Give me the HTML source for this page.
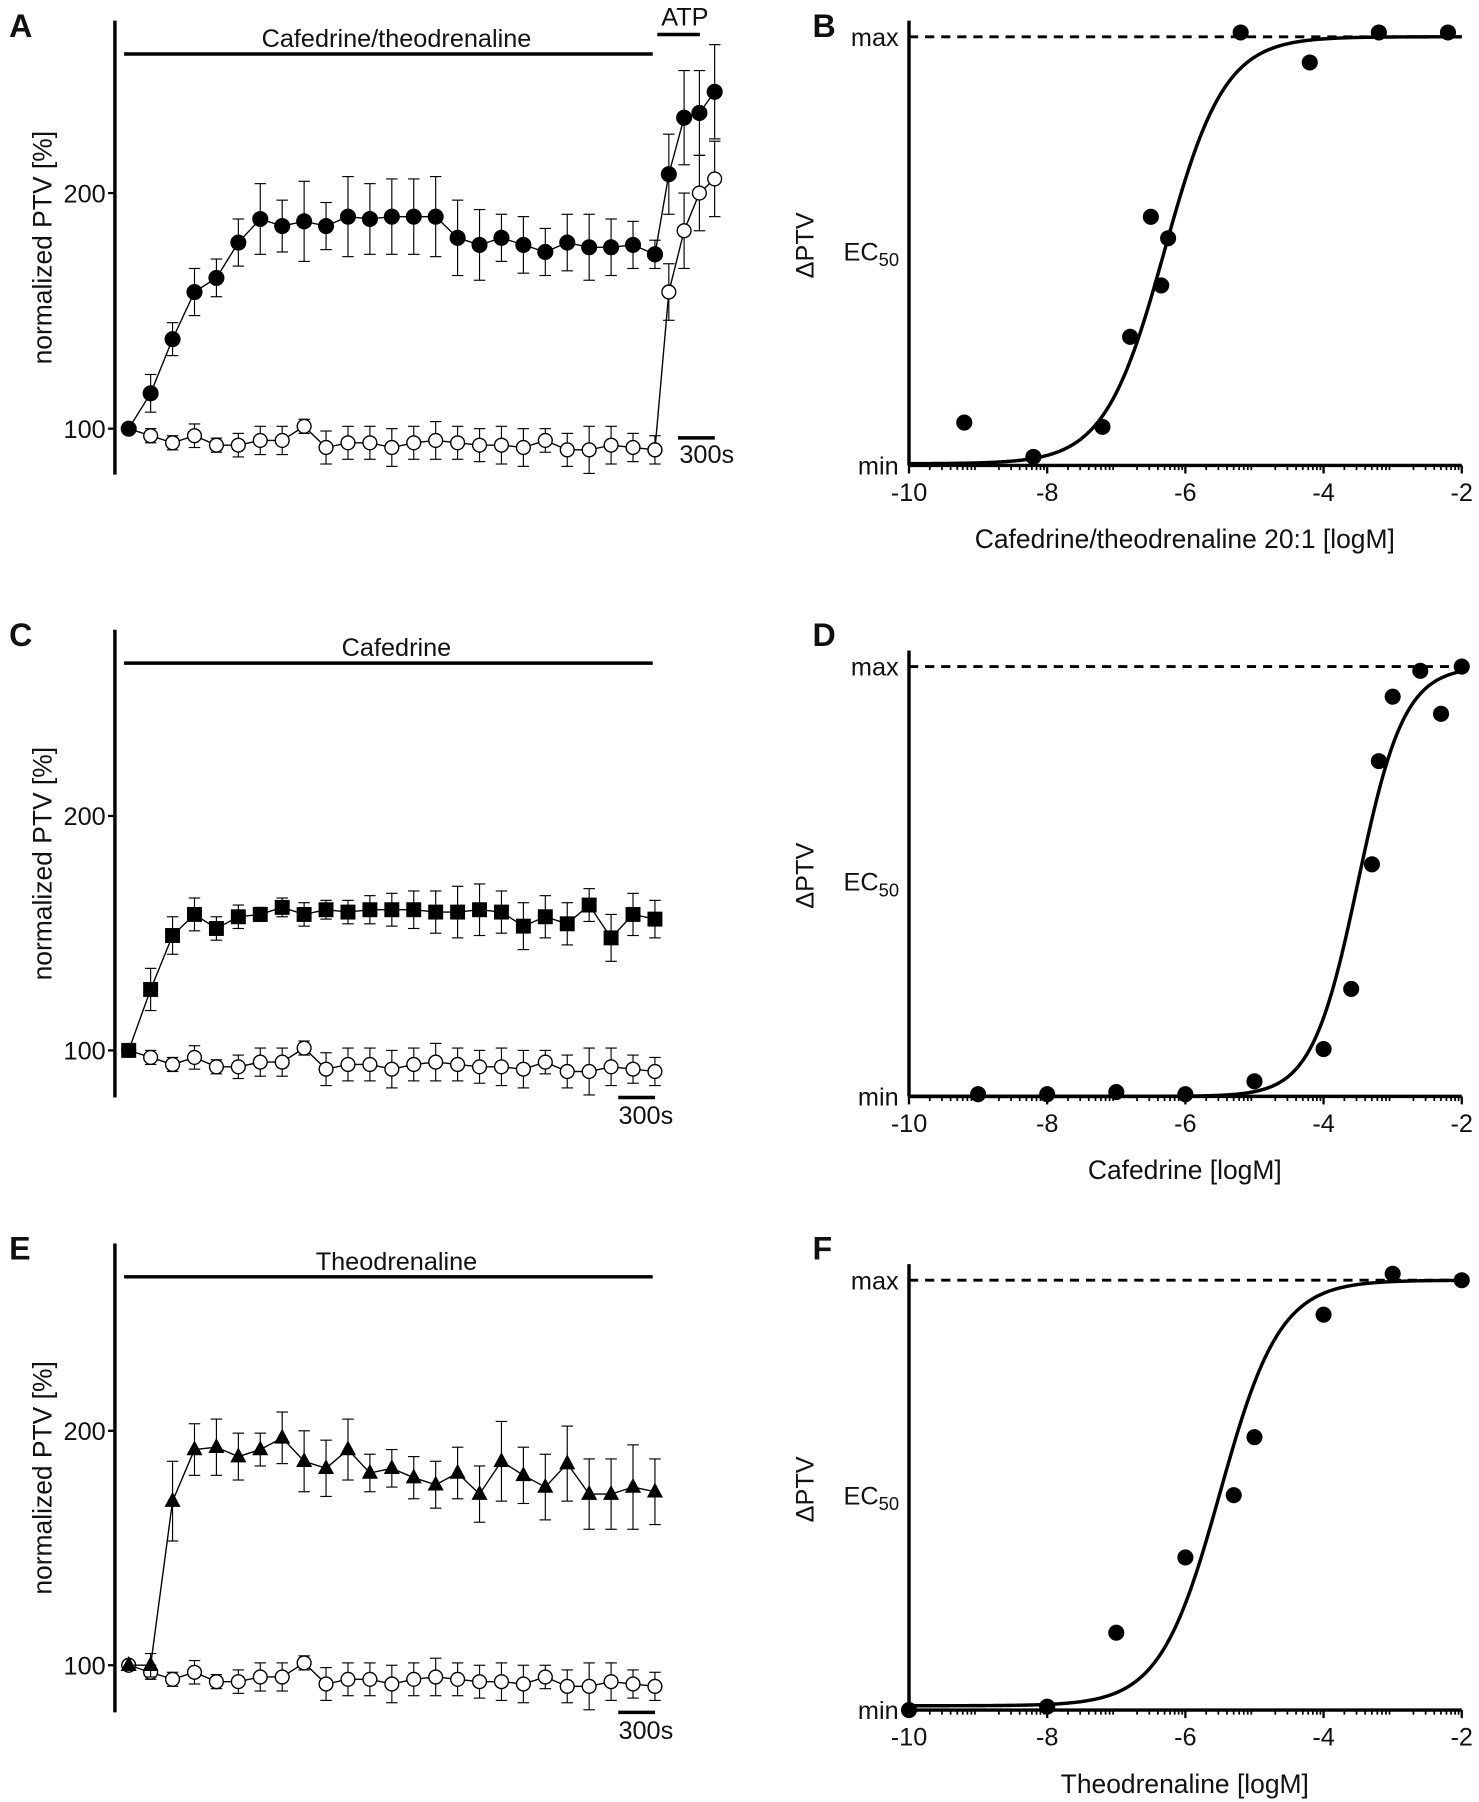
<!DOCTYPE html>
<html><head><meta charset="utf-8"><style>
html,body{margin:0;padding:0;background:#fff}
svg{display:block}
text{font-family:"Liberation Sans",Arial,sans-serif;fill:#111}
</style></head><body>
<svg id="fig" width="1479" height="1802" viewBox="0 0 1287 1568" preserveAspectRatio="none" xmlns="http://www.w3.org/2000/svg"></svg>
<script>
// ---- time-course data ----
const openVals=[100,97,94,97,93,93,95,95,101,92,94,94,92,94,95,94,93,93,92,95,91,91,93,92,91];
const openErr=[0,3,3,5,3,5,6,6,3,7,7,7,8,7,8,7,7,8,8,5,7,10,8,6,6];
const aVals=[100,115,138,158,164,179,189,186,188,186,190,189,190,190,190,181,178,181,178,175,179,177,177,178,174];
const aErr=[0,8,7,10,8,10,15,11,17,10,17,15,16,16,17,16,15,10,12,10,12,14,12,10,6];
const atpFilled=[208,232,234,243];
const atpFilledErr=[17,20,18,20];
const atpOpen=[158,184,200,206];
const atpOpenErr=[12,16,16,16];
const cVals=[100,126,149,158,152,157,158,161,158,160,159,160,160,160,159,159,160,159,153,157,154,162,148,158,156];
const cErr=[0,9,8,7,5,5,3,4,5,4,5,6,7,8,9,11,11,9,10,9,9,7,10,9,8];
const eVals=[100,100,170,192,193,189,192,197,187,184,192,182,184,180,177,182,173,187,181,176,186,173,173,176,174];
const eErr=[0,5,17,11,12,10,7,11,13,12,13,8,8,9,10,11,12,17,12,14,16,15,15,18,14];
// ---- dose-response data ----
const bX=[-9.2,-8.2,-7.2,-6.8,-6.5,-6.35,-6.25,-5.2,-4.2,-3.2,-2.2];
const bY=[0.10,0.02,0.09,0.30,0.58,0.42,0.53,1.01,0.94,1.01,1.01];
const dX=[-9,-8,-7,-6,-5,-4,-3.6,-3.3,-3.2,-3,-2.6,-2.3,-2];
const dY=[0.005,0.005,0.01,0.005,0.035,0.11,0.25,0.54,0.78,0.93,0.99,0.89,1.0];
const fX=[-10,-8,-7,-6,-5.3,-5,-4,-3,-2];
const fY=[0,0.008,0.18,0.355,0.50,0.635,0.92,1.015,1.0];
const xTicks=[-10,-8,-6,-4,-2];

const svg=document.getElementById('fig');
const NS='http://www.w3.org/2000/svg';
function el(tag,attrs,parent){const e=document.createElementNS(NS,tag);for(const k in attrs)e.setAttribute(k,attrs[k]);(parent||svg).appendChild(e);return e;}
function txt(s,x,y,size,anchor,extra,parent){const t=el('text',Object.assign({x:x,y:y,'font-size':size,'text-anchor':anchor||'start'},extra||{}),parent);t.textContent=s;return t;}

function timePanel(letter,top,sy100,sy200,bottom,label,mainVals,mainErr,marker,withATP){
  const g=el('g',{});
  
  
  const ys=v=>sy100-(v-100)*(sy100-sy200)/100;
  const xs=i=>112+i*19.08;
  const L=txt(letter,8,top+14,28,'start',{'font-weight':'bold'},g);
  
  el('line',{x1:100,y1:top,x2:100,y2:bottom,stroke:'#000','stroke-width':3},g);
  [[100,sy100],[200,sy200]].forEach(([v,y])=>{
    el('line',{x1:94,y1:y,x2:100,y2:y,stroke:'#000','stroke-width':2},g);
    const t=txt(String(v),92,y+8,22,'end',{},g);
    
  });
  const yl=txt('normalized PTV [%]',0,0,23,'middle',{transform:'translate(45,'+((top+bottom)/2)+') rotate(-90)'},g);
  
  el('line',{x1:108,y1:top+29,x2:568,y2:top+29,stroke:'#000','stroke-width':3},g);
  const dl=txt(label,345,top+23,22,'middle',{},g);
  
  const sbx=withATP?590:538;
  el('line',{x1:sbx,y1:withATP?bottom-32:bottom,x2:sbx+32,y2:withATP?bottom-32:bottom,stroke:'#000','stroke-width':3},g);
  const sb=txt('300s',withATP?615:562,withATP?bottom-10:bottom+23,22,'middle',{},g);
  
  function series(vals,errs,xfn,kind){
    let pts=vals.map((v,i)=>xfn(i)+','+ys(v)).join(' ');
    el('polyline',{points:pts,fill:'none',stroke:'#000','stroke-width':1.2},g);
    vals.forEach((v,i)=>{
      const x=xfn(i),y=ys(v),e=errs[i];
      if(e>0){
        el('line',{x1:x,y1:ys(v+e),x2:x,y2:ys(v-e),stroke:'#000','stroke-width':1},g);
        el('line',{x1:x-5,y1:ys(v+e),x2:x+5,y2:ys(v+e),stroke:'#000','stroke-width':1},g);
        el('line',{x1:x-5,y1:ys(v-e),x2:x+5,y2:ys(v-e),stroke:'#000','stroke-width':1},g);
      }
      let m;
      if(kind==='open'){m=el('circle',{cx:x,cy:y,r:6,fill:'#fff',stroke:'#000','stroke-width':1.2},g);}
      else if(kind==='circle'){m=el('circle',{cx:x,cy:y,r:7,fill:'#000'},g);}
      else if(kind==='square'){m=el('rect',{x:x-6.5,y:y-6.5,width:13,height:13,fill:'#000'},g);}
      else {m=el('polygon',{points:(x)+','+(y-8)+' '+(x-7)+','+(y+5)+' '+(x+7)+','+(y+5),fill:'#000'},g);}
      
      
    });
  }
  if(withATP){
    el('line',{x1:572,y1:top+12,x2:609,y2:top+12,stroke:'#000','stroke-width':3},g);
    const at=txt('ATP',596,top+4,22,'middle',{},g);
    
    const ax=i=>582+i*13.3;
    series([openVals[openVals.length-1]].concat(atpOpen),[0].concat(atpOpenErr),i=>i===0?xs(24):ax(i-1),'open');
    series([mainVals[mainVals.length-1]].concat(atpFilled),[0].concat(atpFilledErr),i=>i===0?xs(24):ax(i-1),marker);
  }
  series(openVals,openErr,xs,'open');
  series(mainVals,mainErr,xs,marker);
}

function dosePanel(letter,top,maxY,minY,xlabel,px,py,ec50,hill,bottomFrac){
  const g=el('g',{});
  
  
  const x0=791,x1=1272;
  const xs=v=>x0+(v+10)*(x1-x0)/8;
  const ys=f=>minY-f*(minY-maxY);
  const L=txt(letter,707,top+14,28,'start',{'font-weight':'bold'},g);
  
  el('line',{x1:x0,y1:maxY-14,x2:x0,y2:minY,stroke:'#000','stroke-width':3},g);
  el('line',{x1:x0,y1:minY,x2:x1,y2:minY,stroke:'#000','stroke-width':3},g);
  el('line',{x1:x0,y1:maxY,x2:x1,y2:maxY,stroke:'#000','stroke-width':2.5,'stroke-dasharray':'8,6'},g);
  xTicks.forEach(t=>{
    el('line',{x1:xs(t),y1:minY,x2:xs(t),y2:minY+7,stroke:'#000','stroke-width':2},g);
    const tl=txt(String(t),xs(t),minY+31,22,'middle',{},g);
    
  });
  for(let d=-10;d<-2;d++){for(let k=2;k<10;k++){const v=d+Math.log10(k);
    el('line',{x1:xs(v),y1:minY,x2:xs(v),y2:minY+4,stroke:'#000','stroke-width':1.5},g);}}
  const mx=txt('max',782,maxY+8,22,'end',{},g);
  const mn=txt('min',782,minY+8,22,'end',{},g);
  const ec=txt('EC',734,(maxY+minY)/2+8,22,'start',{},g);
  const sub=el('tspan',{'font-size':16,dy:5},ec);sub.textContent='50';
  
  const dp=txt('\u0394PTV',0,0,22,'middle',{transform:'translate(708,'+((maxY+minY)/2-5)+') rotate(-90)'},g);
  
  const xl=txt(xlabel,1031,minY+72,23,'middle',{},g);
  
  let pts=[];
  for(let v=-10;v<=-2.0001+0.02;v+=0.02){const f=bottomFrac+(1-bottomFrac)/(1+Math.pow(10,hill*(ec50-v)));pts.push(xs(v)+','+ys(f));}
  const c=el('polyline',{points:pts.join(' '),fill:'none',stroke:'#000','stroke-width':3},g);
  
  px.forEach((v,i)=>{
    const p=el('circle',{cx:xs(v),cy:ys(py[i]),r:7,fill:'#000'},g);
    
    
  });
}

timePanel('A',18,373,168,413,'Cafedrine/theodrenaline',aVals,aErr,'circle',true);
timePanel('C',548,914,710,955,'Cafedrine',cVals,cErr,'square',false);
timePanel('E',1082,1449,1245,1490,'Theodrenaline',eVals,eErr,'triangle',false);
dosePanel('B',18,32,405,'Cafedrine/theodrenaline 20:1 [logM]',bX,bY,-6.3,1.0,0.004);
dosePanel('D',548,580,954,'Cafedrine [logM]',dX,dY,-3.5,1.3,0);
dosePanel('F',1082,1114,1488,'Theodrenaline [logM]',fX,fY,-5.5,1.0,0.01);
</script>
</body></html>
